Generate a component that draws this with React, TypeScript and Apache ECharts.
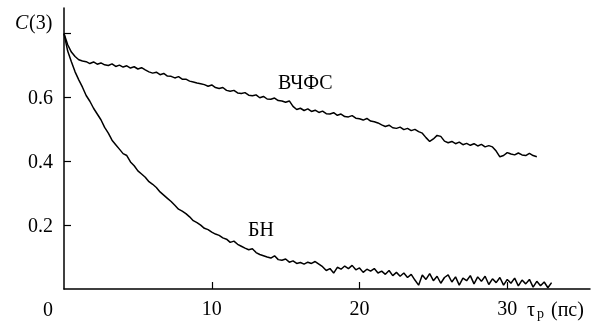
import React, { useEffect, useRef } from "react";
import * as echarts from "echarts";

// sampling step of both traces (ps)
const STEP = 0.25;

// ВЧФС trace, t = 0, 0.25, 0.5 ... ps
const vchfs: number[] = [
  0.800, 0.765, 0.742, 0.728, 0.718, 0.714, 0.712, 0.706, 0.711, 0.704,
  0.708, 0.702, 0.700, 0.705, 0.697, 0.701, 0.695, 0.699, 0.692, 0.696,
  0.689, 0.693, 0.686, 0.680, 0.676, 0.679, 0.671, 0.675, 0.667, 0.666,
  0.661, 0.665, 0.657, 0.657, 0.651, 0.648, 0.645, 0.643, 0.640, 0.635,
  0.639, 0.631, 0.628, 0.631, 0.622, 0.619, 0.622, 0.614, 0.612, 0.615,
  0.607, 0.605, 0.608, 0.599, 0.603, 0.595, 0.594, 0.598, 0.590, 0.589,
  0.585, 0.589, 0.572, 0.562, 0.566, 0.559, 0.564, 0.556, 0.560, 0.553,
  0.557, 0.549, 0.548, 0.552, 0.544, 0.548, 0.540, 0.539, 0.543, 0.535,
  0.533, 0.529, 0.534, 0.526, 0.524, 0.520, 0.514, 0.509, 0.513, 0.505,
  0.503, 0.507, 0.499, 0.503, 0.496, 0.500, 0.493, 0.488, 0.474, 0.462,
  0.470, 0.481, 0.478, 0.463, 0.458, 0.462, 0.455, 0.460, 0.452, 0.456,
  0.450, 0.455, 0.448, 0.453, 0.445, 0.449, 0.445, 0.432, 0.414, 0.418,
  0.427, 0.423, 0.420, 0.426, 0.420, 0.418, 0.425, 0.418, 0.414,
];

// БН trace, t = 0, 0.25, 0.5 ... ps
const bn: number[] = [
  0.800, 0.745, 0.712, 0.680, 0.655, 0.632, 0.606, 0.588, 0.566, 0.548,
  0.530, 0.506, 0.488, 0.466, 0.452, 0.438, 0.424, 0.418, 0.398, 0.386,
  0.370, 0.360, 0.350, 0.336, 0.328, 0.318, 0.304, 0.294, 0.284, 0.274,
  0.262, 0.250, 0.244, 0.236, 0.226, 0.214, 0.208, 0.200, 0.190, 0.186,
  0.178, 0.172, 0.168, 0.160, 0.156, 0.146, 0.150, 0.140, 0.134, 0.128,
  0.123, 0.126, 0.114, 0.108, 0.104, 0.100, 0.097, 0.104, 0.092, 0.090,
  0.094, 0.084, 0.088, 0.080, 0.083, 0.078, 0.084, 0.080, 0.086, 0.078,
  0.070, 0.058, 0.064, 0.050, 0.068, 0.062, 0.072, 0.064, 0.074, 0.060,
  0.066, 0.052, 0.062, 0.056, 0.064, 0.050, 0.056, 0.046, 0.058, 0.042,
  0.052, 0.040, 0.050, 0.036, 0.046, 0.028, 0.012, 0.044, 0.030, 0.048,
  0.026, 0.040, 0.018, 0.036, 0.044, 0.022, 0.038, 0.012, 0.034, 0.026,
  0.042, 0.016, 0.038, 0.024, 0.040, 0.014, 0.032, 0.020, 0.036, 0.012,
  0.030, 0.018, 0.034, 0.010, 0.028, 0.016, 0.030, 0.006, 0.024, 0.010,
  0.022, 0.004, 0.020,
];

const xTicks = [10, 20, 30];
const yTicks = [0.2, 0.4, 0.6, 0.8];
const yLabels = [0.2, 0.4, 0.6];

const FONT = "Liberation Serif";

const toPairs = (vals: number[]) => vals.map((v, i) => [i * STEP, v]);

export default function App() {
  const ref = useRef<HTMLDivElement>(null);
  useEffect(() => {
    if (!ref.current) return;
    const chart = echarts.init(ref.current, undefined, { renderer: "svg" });
    chart.setOption({
      animation: false,
      grid: { left: 64, top: 8, width: 526, height: 281 },
      xAxis: {
        type: "value",
        min: 0,
        max: 35.6,
        interval: 10,
        axisLine: { show: true, lineStyle: { color: "#000", width: 1.5 } },
        axisTick: { show: true, inside: true, length: 7, customValues: xTicks, lineStyle: { color: "#000", width: 1.2 } },
        axisLabel: {
          customValues: xTicks,
          color: "#000",
          fontFamily: FONT,
          fontSize: 20,
          margin: 9,
        },
        splitLine: { show: false },
      },
      yAxis: {
        type: "value",
        min: 0,
        max: 0.88,
        interval: 0.2,
        axisLine: { show: true, lineStyle: { color: "#000", width: 1.5 } },
        axisTick: { show: true, inside: true, length: 7, customValues: yTicks, lineStyle: { color: "#000", width: 1.2 } },
        axisLabel: {
          customValues: yLabels,
          color: "#000",
          fontFamily: FONT,
          fontSize: 20,
          margin: 11,
          formatter: (v: number) => v.toFixed(1),
        },
        splitLine: { show: false },
      },
      series: [
        {
          name: "ВЧФС",
          type: "line",
          data: toPairs(vchfs),
          showSymbol: false,
          lineStyle: { color: "#000", width: 1.5 },
        },
        {
          name: "БН",
          type: "line",
          data: toPairs(bn),
          showSymbol: false,
          lineStyle: { color: "#000", width: 1.5 },
        },
      ],
      graphic: [
        { type: "text", x: 15, y: 12, style: { text: "C", fontFamily: FONT, fontSize: 20, fontStyle: "italic", fill: "#000" } },
        { type: "text", x: 29, y: 12, style: { text: "(3)", fontFamily: FONT, fontSize: 20, fill: "#000" } },
        { type: "text", x: 43, y: 299, style: { text: "0", fontFamily: FONT, fontSize: 20, fill: "#000" } },
        { type: "text", x: 278, y: 72, style: { text: "ВЧФС", fontFamily: FONT, fontSize: 20, fill: "#000" } },
        { type: "text", x: 248, y: 219, style: { text: "БН", fontFamily: FONT, fontSize: 20, fill: "#000" } },
        { type: "text", x: 527, y: 299, style: { text: "τ", fontFamily: FONT, fontSize: 20, fill: "#000" } },
        { type: "text", x: 537, y: 306, style: { text: "р", fontFamily: FONT, fontSize: 14, fill: "#000" } },
        { type: "text", x: 551, y: 299, style: { text: "(пс)", fontFamily: FONT, fontSize: 20, fill: "#000" } },
      ],
    });
    return () => chart.dispose();
  }, []);
  return (
    <div
      ref={ref}
      style={{ position: "fixed", left: 0, top: 0, width: 591, height: 322 }}
    />
  );
}
